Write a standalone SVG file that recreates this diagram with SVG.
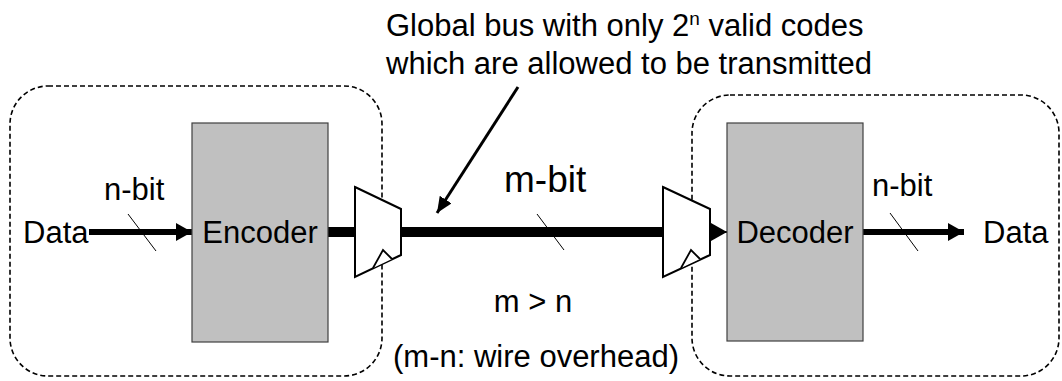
<svg xmlns="http://www.w3.org/2000/svg" width="1062" height="381" viewBox="0 0 1062 381">
<style>
text{font-family:"Liberation Sans",Arial,sans-serif;fill:#000;}
.t{font-size:31px;}
.region{fill:none;stroke:#000;stroke-width:1.6;stroke-dasharray:5 3;}
.block{fill:#c0c0c0;stroke:#404040;stroke-width:1.2;}
.mux{fill:#fff;stroke:#000;stroke-width:2;stroke-linejoin:miter;}
.clk{fill:#fff;stroke:#000;stroke-width:1.8;}
.slash{stroke:#000;stroke-width:1;}
.wire{stroke:#000;stroke-width:6;fill:none;}
.bus{stroke:#000;stroke-width:10;fill:none;}
</style>
<defs>
<marker id="ah" markerUnits="userSpaceOnUse" markerWidth="18" markerHeight="20" refX="16" refY="9" orient="auto">
<path d="M0,0 L16,9 L0,18 Z" fill="#000"/>
</marker>
<marker id="ah2" markerUnits="userSpaceOnUse" markerWidth="18" markerHeight="16" refX="16" refY="7" orient="auto">
<path d="M0,0 L16,7 L0,14 Z" fill="#000"/>
</marker>
</defs>
<g id="regions">
<rect id="enc-region" class="region" x="10" y="86" width="372" height="290" rx="38" ry="38"/>
<rect id="dec-region" class="region" x="692" y="95" width="367" height="281" rx="38" ry="38"/>
</g>
<g id="connectors">
<line class="wire" x1="89" y1="232" x2="192" y2="232" marker-end="url(#ah)"/>
<line class="slash" x1="128" y1="214" x2="156" y2="251"/>
<line class="bus" x1="328" y1="232" x2="356" y2="232"/>
<line class="bus" x1="400" y1="232" x2="664" y2="232"/>
<line class="slash" x1="537" y1="214" x2="564" y2="250"/>
<line x1="710" y1="232" x2="727" y2="232" stroke="#000" stroke-width="2" marker-end="url(#ah)"/>
<line class="wire" x1="863" y1="232" x2="964" y2="232" marker-end="url(#ah)"/>
<line class="slash" x1="890" y1="213" x2="918" y2="251"/>
<line x1="518" y1="87" x2="437" y2="213" stroke="#000" stroke-width="3" marker-end="url(#ah2)"/>
</g>
<g id="encoder">
<rect class="block" x="192" y="123" width="136" height="219"/>
<text class="t" x="260" y="243" text-anchor="middle">Encoder</text>
</g>
<g id="decoder">
<rect class="block" x="727" y="123" width="136" height="218"/>
<text class="t" x="795" y="243" text-anchor="middle">Decoder</text>
</g>
<g id="mux-left">
<path class="mux" d="M355,187 L401,209 L401,255 L355,277 Z"/>
<path class="clk" d="M373,268 L383,250 L392,259"/>
</g>
<g id="mux-right">
<path class="mux" d="M663,187 L710,209 L710,255 L663,277 Z"/>
<path class="clk" d="M681,268 L691,250 L700,259"/>
</g>
<g id="labels">
<text class="t" x="23" y="243">Data</text>
<text class="t" x="104" y="200">n-bit</text>
<text class="t" x="983" y="243">Data</text>
<text class="t" x="872" y="196">n-bit</text>
<text x="504" y="192" font-size="37">m-bit</text>
<text class="t" x="533" y="312" text-anchor="middle">m &gt; n</text>
<text class="t" x="536" y="367" text-anchor="middle">(m-n: wire overhead)</text>
<text class="t" x="386" y="36">Global bus with only 2<tspan font-size="19" dy="-11">n</tspan><tspan dy="11"> valid codes</tspan></text>
<text class="t" x="386" y="74">which are allowed to be transmitted</text>
</g>
</svg>
